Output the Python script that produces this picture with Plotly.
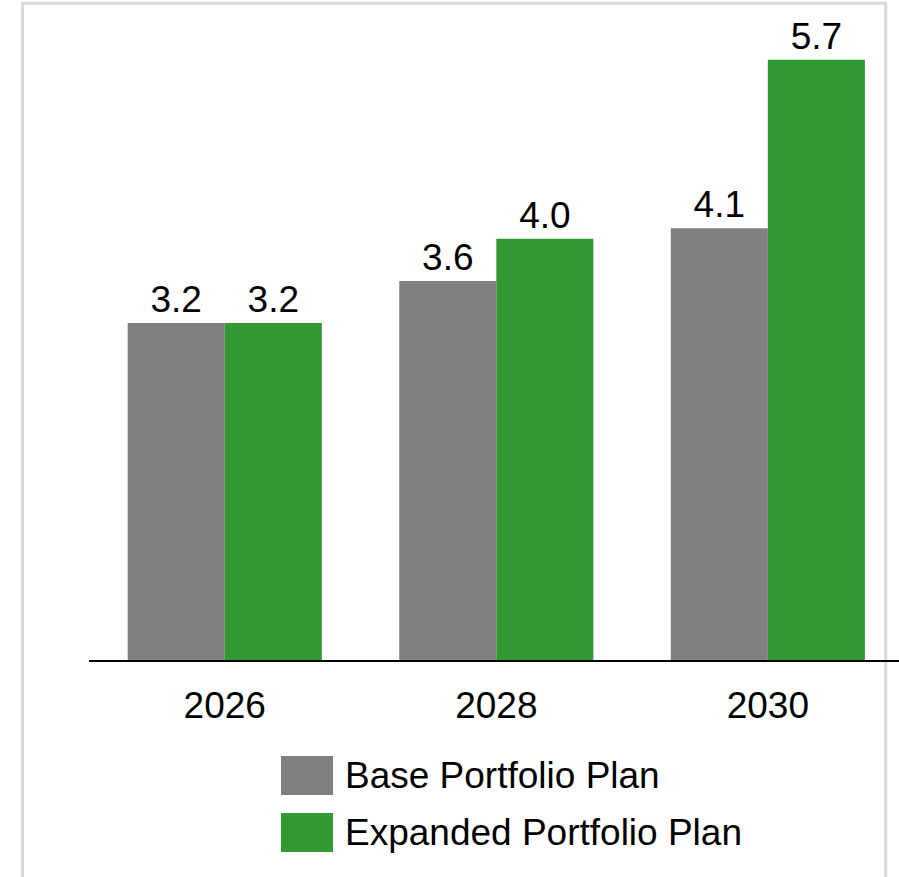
import plotly.graph_objects as go

# Chart data
years = ["2026", "2028", "2030"]
series_names = ["Base Portfolio Plan", "Expanded Portfolio Plan"]
base_values = [3.2, 3.6, 4.1]
expanded_values = [3.2, 4.0, 5.7]
series_colors = ["#808080", "#339933"]

W, H = 899, 877
PL, PR, PT, PB = 89, 899, 3, 660  # plot area in pixels


def px_to_paper_x(px):
    return (px - PL) / (PR - PL)


def px_to_paper_y(py):
    return (PB - py) / (PB - PT)


font = dict(family="Liberation Sans, Arial, sans-serif", size=37, color="black")

fig = go.Figure()
for name, vals, col in zip(series_names, [base_values, expanded_values], series_colors):
    fig.add_trace(go.Bar(
        x=years, y=vals, name=name,
        marker=dict(color=col, line=dict(width=0)),
        text=[f"{v:.1f}" for v in vals],
        textposition="outside",
        textfont=font,
        cliponaxis=False,
    ))

shapes = [
    # outer frame
    dict(type="rect", xref="paper", yref="paper",
         x0=px_to_paper_x(22.5), x1=px_to_paper_x(885.7),
         y0=px_to_paper_y(900), y1=px_to_paper_y(3.2),
         line=dict(color="#d9d9d9", width=3), fillcolor="rgba(0,0,0,0)", layer="below"),
]
annotations = []
legend_rows = [(756, 795), (813, 852)]
for (top, bot), name, col in zip(legend_rows, series_names, series_colors):
    shapes.append(dict(type="rect", xref="paper", yref="paper",
                       x0=px_to_paper_x(281), x1=px_to_paper_x(333),
                       y0=px_to_paper_y(bot), y1=px_to_paper_y(top),
                       line=dict(width=0), fillcolor=col))
    annotations.append(dict(xref="paper", yref="paper",
                            x=px_to_paper_x(343), y=px_to_paper_y((top + bot) / 2),
                            xanchor="left", yanchor="middle", text=name,
                            showarrow=False, font=font))

fig.update_layout(
    width=W, height=H,
    margin=dict(l=PL, r=W - PR, t=PT, b=H - PB, pad=0),
    paper_bgcolor="white", plot_bgcolor="white",
    barmode="group", bargap=0.285, bargroupgap=0,
    showlegend=False,
    font=font,
    shapes=shapes,
    annotations=annotations,
    uniformtext=dict(mode=False),
)
fig.update_xaxes(range=[-0.5, 2.483], showline=True, linecolor="black", linewidth=1.5,
                 ticks="", showgrid=False, tickfont=font, ticklabelstandoff=12)
fig.update_yaxes(range=[0, 6.24], visible=False, showgrid=False, zeroline=False)

fig.write_html("out.html")
